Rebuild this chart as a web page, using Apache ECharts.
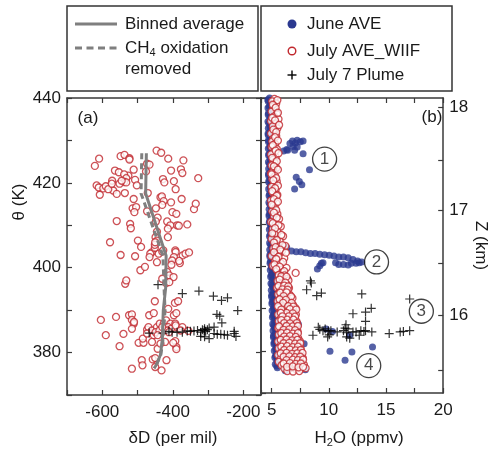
<!DOCTYPE html>
<html><head><meta charset="utf-8">
<script src="https://cdn.jsdelivr.net/npm/echarts@6/dist/echarts.min.js"></script>
<style>html,body{margin:0;padding:0;background:#fff}#c{width:490px;height:453px}</style>
</head><body><div id="c"></div>
<script>
const FONT = '"Liberation Sans", Arial, sans-serif';
const NAVY = '#2b3990', RED = '#c1272d', GRAY = '#7f7f7f', AX = '#3a3a3a', TXT = '#1a1a1a';

// ---------- Panel (a): deltaD vs theta ----------
const julyDeltaD = [[-621,424.0],[-609,425.7],[-607,417.2],[-616,419.4],[-610,418.9],[-597,418.7],[-590,419.2],[-572,420.5],[-564,422.9],[-553,422.5],[-548,426.3],[-537,426.6],[-523,425.8],[-523,425.5],[-526,421.7],[-538,422.0],[-532,421.1],[-538,420.2],[-532,420.1],[-569,418.2],[-583,418.5],[-573,419.8],[-559,417.4],[-551,419.8],[-545,420.5],[-536,417.6],[-511,423.1],[-507,420.7],[-502,419.4],[-511,416.2],[-514,414.0],[-504,414.3],[-509,413.1],[-521,410.3],[-519,409.3],[-559,411.0],[-578,406.0],[-548,403.0],[-507,402.7],[-535,396.2],[-492,399.4],[-479,400.2],[-499,406.4],[-490,404.9],[-476,422.7],[-473,424.5],[-466,424.3],[-471,417.6],[-473,413.3],[-446,427.6],[-433,427.1],[-428,420.9],[-424,420.1],[-435,416.6],[-431,416.8],[-426,415.7],[-430,414.8],[-448,414.0],[-443,411.8],[-448,410.9],[-445,408.5],[-449,407.2],[-445,406.4],[-460,403.6],[-464,403.3],[-466,402.5],[-445,401.3],[-440,403.3],[-451,404.7],[-451,405.4],[-450,406.0],[-430,403.8],[-427,404.1],[-414,407.2],[-416,410.9],[-413,425.7],[-405,422.9],[-397,420.4],[-392,418.5],[-405,415.4],[-401,413.1],[-390,412.7],[-388,410.0],[-407,410.0],[-414,409.2],[-383,409.9],[-393,404.1],[-392,403.7],[-397,402.5],[-402,401.7],[-404,400.7],[-380,401.1],[-372,402.9],[-364,403.3],[-354,403.6],[-382,401.6],[-370,425.3],[-377,423.2],[-373,422.3],[-375,416.2],[-359,410.2],[-340,413.8],[-335,415.1],[-328,421.1],[-416,399.0],[-419,396.4],[-410,398.2],[-398,397.8],[-430,397.4],
[-604,387.7],[-590,384.1],[-561,388.4],[-551,381.5],[-540,384.4],[-524,388.8],[-516,389.0],[-516,387.7],[-511,386.8],[-510,387.2],[-516,385.6],[-497,382.3],[-483,382.3],[-485,383.3],[-473,385.4],[-467,388.8],[-454,389.3],[-451,392.1],[-469,386.0],[-473,384.5],[-459,385.2],[-454,384.1],[-445,386.0],[-449,384.8],[-437,386.8],[-438,385.2],[-443,384.1],[-459,382.5],[-443,380.9],[-422,382.5],[-435,382.1],[-426,386.8],[-419,387.6],[-407,386.8],[-413,386.0],[-405,385.6],[-393,386.8],[-388,386.0],[-392,386.4],[-373,386.0],[-378,385.2],[-413,390.3],[-397,388.8],[-390,389.3],[-394,391.7],[-385,392.1],[-393,382.7],[-390,381.3],[-390,380.8],[-399,382.3],[-418,378.2],[-457,378.4],[-450,378.7],[-488,378.2],[-486,377.0],[-516,376.2],[-432,375.8],[-450,376.6],[-416,385.2],[-411,384.8],[-430,386.0],[-356,385.1],[-532,397.0],[-410,396.6]];

const plumeDeltaD = [[-442,396.0],[-373,393.9],[-326,394.5],[-285,393.3],[-262,392.3],[-245,392.9],[-216,389.9],[-275,389.0],[-267,388.6],[-261,387.0],[-283,386.0],[-297,385.8],[-311,385.2],[-321,384.8],[-330,385.2],[-340,385.1],[-350,385.0],[-359,385.1],[-373,384.8],[-388,384.8],[-402,384.8],[-411,385.0],[-428,384.6],[-467,384.6],[-321,383.8],[-310,383.7],[-297,383.3],[-283,384.5],[-274,384.3],[-264,384.3],[-254,384.2],[-245,384.1],[-226,384.5],[-221,383.8],[-226,385.0],[-307,385.0],[-302,385.4],[-310,385.6],[-316,385.4]];

const binTheta = [427, 417.5, 402.8, 395.5, 390, 383, 379.5, 377.2, 376.3];
const binAvg   = [-475, -477, -419, -420, -427, -430, -435, -446, -453];
const binNoCH4 = [-488, -490, -428, -425, -422, -428, -434, -446, -453];

// ---------- Panel (b): H2O vs theta ----------
const juneColumn = [[4.67,439.6],[4.93,438.8],[4.78,438.0],[5.04,437.2],[4.72,436.4],[4.90,435.6],[5.00,434.8],[4.76,434.0],[4.86,433.2],[5.12,432.4],[4.69,431.6],[4.96,430.8],[4.73,430.0],[4.98,429.2],[4.84,428.4],[5.09,427.6],[4.77,426.8],[4.95,426.0],[5.05,425.2],[4.80,424.4],[4.91,423.6],[5.16,422.8],[4.73,422.0],[5.00,421.2],[4.77,420.4],[5.02,419.6],[4.88,418.8],[5.13,418.0],[4.82,417.2],[4.99,416.4],[5.10,415.6],[4.85,414.8],[4.96,414.0],[5.21,413.2],[4.79,412.4],[5.05,411.6],[4.82,410.8],[5.08,410.0],[4.94,409.2],[5.19,408.4],[4.88,407.6],[5.05,406.8],[5.16,406.0],[4.91,405.2],[5.02,404.4],[5.27,403.6],[4.85,402.8],[5.11,402.0],[4.89,401.2],[5.15,400.4],[5.01,399.6],[5.28,398.8],[4.97,398.0],[5.16,397.2],[5.27,396.4],[5.04,395.6],[5.16,394.8],[5.42,394.0],[5.00,393.2],[5.27,392.4],[5.05,391.6],[5.31,390.8],[5.17,390.0],[5.43,389.2],[5.13,388.4],[5.31,387.6],[5.42,386.8],[5.18,386.0],[5.30,385.2],[5.57,384.4],[5.16,383.6],[5.44,382.8],[5.22,382.0],[5.49,381.2],[5.36,380.4],[5.63,379.6],[5.34,378.8],[5.54,378.0],[5.67,377.2],[5.44,376.4],
[4.82,440.0],[4.70,439.2],[4.88,438.4],[4.68,437.6],[4.95,436.8],[4.70,436.0],[4.84,435.2],[4.68,434.4],[4.92,433.6],[4.71,432.8],[4.85,432.0],[4.70,431.2],[4.90,430.4],[4.72,429.6],[4.88,428.8],[4.71,428.0],[4.94,427.2],[4.73,426.4],[4.86,425.6],[4.72,424.8],[4.96,424.0],[4.74,423.2],[4.88,422.4],[4.73,421.6],[4.92,420.8],[4.75,420.0],[4.90,419.2],[4.74,418.4],[4.95,417.6],[4.77,416.8],[4.88,416.0],[4.76,415.2],[4.97,414.4],[4.78,413.6],[4.90,412.8],[4.77,412.0],[4.95,411.2],[4.79,410.4],[4.92,409.6],[4.80,408.8],[4.98,408.0],[4.81,407.2],[4.93,406.4],[4.82,405.6],[5.00,404.8],[4.83,404.0],[4.96,403.2],[4.84,402.4],[5.02,401.6],[4.86,400.8],[4.98,400.0],[4.88,399.2],[5.06,398.4],[4.91,397.6],[5.05,396.8],[4.94,396.0],[5.10,395.2],[4.97,394.4],[5.12,393.6],[5.00,392.8],[5.15,392.0],[5.02,391.2],[5.18,390.4],[5.04,389.6],[5.20,388.8],[5.07,388.0],[5.22,387.2],[5.09,386.4],[5.26,385.6],[5.12,384.8],[5.30,384.0],[5.16,383.2],[5.33,382.4],[5.20,381.6],[5.38,380.8],[5.23,380.0],[5.42,379.2],[5.28,378.4],[5.45,377.6],[5.32,376.8],[5.50,376.0]];

const juneOutliers = [[6.05,427.4],[6.32,427.8],[6.6,429.2],[6.82,429.8],[7.07,429.3],[7.23,430.0],[7.51,429.6],[7.75,429.8],[7.01,427.6],[7.23,428.4],[7.75,426.8],[8.31,423.0],[7.15,421.2],[7.64,419.4],[7.42,420.2],[7.01,418.4],[6.4,427.6],[6.87,428.5],
[6.0,405.0],[6.32,404.5],[6.74,403.7],[7.15,403.5],[7.56,403.5],[7.98,403.3],[8.39,403.1],[8.8,403.1],[9.21,402.9],[9.63,402.8],[10.04,402.7],[10.45,402.5],[10.87,402.3],[11.28,402.3],[11.69,402.1],[12.11,401.7],[12.52,401.3],[12.88,401.1],
[9.0,399.4],[9.21,400.2],[9.35,400.8],[9.49,400.9],[10.59,400.9],[10.87,400.5],[11.28,400.5],[11.69,400.4],[11.97,400.8],[12.38,400.8],[12.66,400.9],
[7.34,386.3],[7.84,381.7],[10.1,379.9],[12.02,379.7],[11.42,377.8],[13.82,380.9],[9.77,385.2],[10.32,384.6],[11.83,383.7],[6.2,375.3],[7.95,375.5],[6.8,376.0]];

const julyH2O = [[5.25,439.8],[5.05,439.2],[5.4,438.7],[5.15,438.0],[5.3,437.3],[5.0,436.8],[5.45,436.2],[5.2,435.6],[5.6,435.0],[4.95,434.5],[5.35,434.0],[5.1,433.3],[5.5,432.8],[5.25,432.1],[4.95,431.6],[5.4,431.0],[5.15,430.4],[5.05,429.7],[5.3,429.1],[5.0,428.4],[5.45,427.9],[5.2,427.2],[4.95,426.6],[5.35,426.0],[5.1,425.3],[5.25,424.7],[5.0,424.0],[5.4,423.4],[5.15,422.8],[4.95,422.1],[5.3,421.5],[5.05,420.8],[5.45,420.2],[5.2,419.6],[5.0,418.9],[5.35,418.3],[5.1,417.6],[5.5,417.0],[5.25,416.4],[4.95,415.7],[5.4,415.1],[5.15,414.4],[5.3,413.8],[5.05,413.1],[5.5,412.5],[5.2,411.9],[5.65,411.3],[4.95,410.6],[5.35,410.0],[5.8,409.5],[5.1,408.9],[5.5,408.3],[5.25,407.7],[6.0,407.2],[5.0,406.6],[5.7,406.0],[5.4,405.4],[6.2,404.9],[5.15,404.3],[5.9,403.7],[5.55,403.1],[5.0,402.5],[6.1,402.0],[5.3,401.4],[5.8,400.8],[5.1,400.2],[6.3,399.7],[5.5,399.1],[5.95,398.6],[7.1,398.5],
[5.5,439.5],[5.1,438.4],[5.35,437.7],[5.55,436.5],[5.05,435.3],[5.3,434.7],[5.65,433.6],[5.15,432.5],[5.4,431.9],[5.3,430.7],[5.55,429.9],[5.1,428.8],[5.35,427.5],[5.6,426.9],[5.05,425.8],[5.45,425.0],[5.2,423.8],[5.55,423.0],[5.0,421.9],[5.4,421.0],[5.15,420.5],[5.55,419.2],[5.3,418.6],[5.05,417.9],[5.45,416.8],[5.2,416.0],[5.55,415.4],[5.0,414.7],[5.4,413.4],[5.2,412.8],[5.45,411.6],[5.1,410.3],[5.6,409.8],[5.3,409.1],[5.05,407.9],[5.85,407.5],[5.45,406.3],[5.2,405.7],[5.95,405.1],[5.35,404.6],[5.75,404.0],[5.2,403.4],[6.25,403.3],[5.6,402.3],[5.4,401.8],[6.0,401.1],[5.25,400.5],[5.7,400.0],[5.4,399.4],[6.1,398.9],
[5.62,398.0],[6.12,397.9],[5.88,397.3],[6.38,397.1],[5.52,396.6],[6.02,396.5],[6.47,396.7],[5.78,395.8],[6.27,395.9],[5.47,395.0],[5.97,395.1],[6.52,394.9],[5.72,394.2],[6.22,394.3],[5.57,393.4],[6.07,393.5],[6.57,393.3],[5.82,392.6],[6.32,392.7],[6.82,392.5],[5.52,391.8],[6.02,391.9],[6.57,391.7],[5.77,391.0],[6.27,391.1],[6.87,390.9],[5.62,390.2],[6.12,390.3],[6.62,390.1],[7.07,390.2],[5.87,389.4],[6.37,389.5],[6.92,389.3],[5.57,388.6],[6.07,388.7],[6.62,388.5],[7.12,388.6],[5.82,387.8],[6.32,387.9],[6.82,387.7],[5.62,387.0],[6.12,387.1],[6.62,386.9],[7.17,387.0],[5.87,386.2],[6.37,386.3],[6.92,386.1],[5.57,385.4],[6.07,385.5],[6.57,385.3],[7.12,385.4],[5.82,384.6],[6.32,384.7],[6.82,384.5],[7.27,384.6],[5.62,383.8],[6.12,383.9],[6.62,383.7],[7.07,383.8],[5.87,383.0],[6.37,383.1],[6.87,382.9],[7.32,383.0],[5.57,382.2],[6.07,382.3],[6.57,382.1],[7.02,382.2],[7.47,382.3],[5.82,381.4],[6.32,381.5],[6.82,381.3],[7.27,381.4],[5.62,380.6],[6.12,380.7],[6.62,380.5],[7.07,380.6],[7.52,380.7],[5.87,379.8],[6.37,379.9],[6.87,379.7],[7.32,379.8],[5.57,379.0],[6.07,379.1],[6.57,378.9],[7.02,379.0],[7.57,379.1],[5.82,378.2],[6.32,378.3],[6.82,378.1],[7.27,378.2],[7.72,378.3],[5.62,377.4],[6.12,377.5],[6.62,377.3],[7.07,377.4],[7.52,377.5],[5.87,376.6],[6.37,376.7],[6.87,376.5],[7.32,376.6],[7.82,376.7],[6.12,375.8],[6.62,375.9],[7.12,375.7],[7.57,375.8],[7.97,375.9],[6.37,375.2],[6.87,375.1],[7.42,375.2],
[5.85,397.7],[6.3,397.6],[5.7,396.9],[6.2,396.2],[5.6,395.4],[6.1,395.5],[6.45,395.3],[5.95,394.6],[6.4,394.5],[5.75,393.8],[6.3,393.9],[6.7,392.9],[6.05,393.0],[5.7,392.2],[6.25,392.1],[6.75,391.4],[6.0,391.4],[5.55,390.6],[6.45,390.6],[6.9,390.5],[5.85,389.8],[6.6,389.9],[7.15,389.8],[6.3,389.0],[5.8,389.0],[6.85,388.9],[6.5,388.2],[5.95,388.2],[7.05,388.1],[6.35,387.4],[5.85,387.3],[6.9,387.4],[7.2,386.6],[6.1,386.6],[6.6,386.5],[5.65,385.8],[6.3,385.9],[6.85,385.8],[7.3,385.9],[6.05,385.0],[6.55,385.1],[7.05,384.9],[5.85,384.2],[6.35,384.3],[6.85,384.1],[7.3,384.2],[6.1,383.4],[6.6,383.5],[7.1,383.3],[5.8,382.6],[6.3,382.7],[6.8,382.5],[7.25,382.6],[6.05,381.8],[6.55,381.9],[7.05,381.7],[7.5,381.8],[5.85,381.0],[6.35,381.1],[6.85,380.9],[7.3,381.0],[6.1,380.2],[6.6,380.3],[7.1,380.1],[7.55,380.2],[5.8,379.4],[6.3,379.5],[6.8,379.3],[7.25,379.4],[7.7,379.5],[6.05,378.6],[6.55,378.7],[7.05,378.5],[7.5,378.6],[6.3,377.8],[6.85,377.9],[7.3,377.8],[7.75,377.9],[6.05,377.0],[6.6,377.1],[7.1,376.9],[7.55,377.0],[6.35,376.2],[6.85,376.3],[7.35,376.1],[7.75,376.2]];

const plumeH2O = [[8.39,396.6],[8.47,396.1],[8.06,394.5],[8.94,393.1],[9.35,393.7],[12.88,393.5],[17.07,392.3],[12.11,388.8],[13.21,389.2],[13.71,390.1],[13.21,387.0],[11.5,386.2],[9.08,385.6],[9.21,385.1],[9.49,384.8],[9.68,385.2],[9.96,384.7],[10.18,384.8],[10.73,384.5],[11.28,384.8],[11.56,384.3],[11.69,385.2],[12.11,384.5],[12.38,384.5],[12.8,384.8],[13.07,384.6],[13.21,384.8],[13.76,384.5],[15.28,384.1],[16.24,384.5],[16.52,384.6],[17.07,384.8],[8.61,383.7],[9.9,383.3],[10.04,383.8],[11.56,383.3],[11.83,383.0],[12.66,383.7],[11.42,385.4]];

const annoH2O = [9.63, 14.17, 18.09, 13.49];
const annoTheta = [425.5, 401.1, 389.4, 376.5];
const annoLabels = ['1', '2', '3', '4'];

// ---------- Tick labels ----------
const thetaLabels = [380, 400, 420, 440];
const deltaDLabels = [-600, -400, -200];
const h2oTicks = [5, 7.5, 10, 12.5, 15, 17.5, 20];
const h2oLabels = [5, 10, 15, 20];
const zTickTheta = [375.5, 388.5, 400.8, 413.3, 425.3, 437.8];
const zTickKm = [15.5, 16, 16.5, 17, 17.5, 18];
const zLabelKm = [16, 17, 18];

const chart = echarts.init(document.getElementById('c'), null, {renderer: 'canvas'});
const lab = {fontFamily: FONT, fontSize: 17, color: TXT};
const axLine = {show: true, onZero: false, lineStyle: {color: AX, width: 1.5}};
const tick = (extra) => Object.assign({show: true, inside: true, length: 5, lineStyle: {color: AX, width: 1.2}}, extra || {});
const plusSym = 'path://M5,0L5,10M0,5L10,5';

const zLabelTheta = zTickTheta.filter((t, i) => zLabelKm.indexOf(zTickKm[i]) >= 0);

const option = {
  animation: false,
  backgroundColor: '#fff',
  grid: [
    {left: 67, top: 98, width: 194, height: 297},
    {left: 261, top: 98, width: 192, height: 297}
  ],
  xAxis: [
    {gridIndex: 0, type: 'value', min: -700, max: -150, interval: 100, position: 'bottom',
     axisLine: axLine, axisTick: tick(), splitLine: {show: false},
     axisLabel: Object.assign({customValues: deltaDLabels, margin: 9}, lab),
     name: 'δD (per mil)', nameLocation: 'middle', nameGap: 35,
     nameTextStyle: Object.assign({padding: [0, 0, 0, 18]}, lab)},
    {gridIndex: 0, type: 'value', min: -700, max: -150, interval: 100, position: 'top',
     axisLine: axLine, axisTick: tick(), splitLine: {show: false}, axisLabel: {show: false}},
    {gridIndex: 1, type: 'value', min: 4.07, max: 20, position: 'bottom',
     axisLine: axLine, axisTick: tick({customValues: h2oTicks}), splitLine: {show: false},
     axisLabel: Object.assign({customValues: h2oLabels, margin: 9}, lab),
     name: '{n|H}{s|2}{n|O (ppmv)}', nameLocation: 'middle', nameGap: 35,
     nameTextStyle: {padding: [0, 0, 0, 14], rich: {
       n: {fontFamily: FONT, fontSize: 17, color: TXT},
       s: {fontFamily: FONT, fontSize: 11, color: TXT, padding: [9, 0, 0, 0]}}}},
    {gridIndex: 1, type: 'value', min: 4.07, max: 20, position: 'top',
     axisLine: axLine, axisTick: tick({customValues: h2oTicks}), splitLine: {show: false}, axisLabel: {show: false}}
  ],
  yAxis: [
    {gridIndex: 0, type: 'value', min: 370, max: 440, interval: 10, position: 'left',
     axisLine: axLine, axisTick: tick(), splitLine: {show: false},
     axisLabel: Object.assign({customValues: thetaLabels, margin: 6}, lab)},
    {gridIndex: 0, type: 'value', min: 370, max: 440, interval: 10, position: 'right',
     axisLine: axLine, axisTick: tick(), splitLine: {show: false}, axisLabel: {show: false}},
    {gridIndex: 1, type: 'value', min: 370, max: 440, interval: 10, position: 'left',
     axisLine: axLine, axisTick: tick(), splitLine: {show: false}, axisLabel: {show: false}},
    {gridIndex: 1, type: 'value', min: 370, max: 440, position: 'right',
     axisLine: axLine, axisTick: tick({customValues: zTickTheta}), splitLine: {show: false},
     axisLabel: Object.assign({customValues: zLabelTheta, margin: 6,
       formatter: v => { const i = zTickTheta.indexOf(v); return i >= 0 ? String(zTickKm[i]) : ''; }}, lab),
     name: 'Z (km)', nameLocation: 'middle', nameRotate: -90, nameGap: 26,
     nameTextStyle: lab}
  ],
  series: [
    {name: 'July AVE_WIIF', type: 'scatter', xAxisIndex: 0, yAxisIndex: 0, data: julyDeltaD,
     symbol: 'circle', symbolSize: 7, itemStyle: {color: '#fff', borderColor: RED, borderWidth: 1.3}},
    {name: 'July 7 Plume', type: 'scatter', xAxisIndex: 0, yAxisIndex: 0, data: plumeDeltaD,
     symbol: plusSym, symbolSize: 9, itemStyle: {color: 'transparent', borderColor: '#000', borderWidth: 1.2}},
    {name: 'Binned average', type: 'line', xAxisIndex: 0, yAxisIndex: 0,
     data: binTheta.map((t, i) => [binAvg[i], t]), showSymbol: false, symbol: 'none',
     lineStyle: {color: GRAY, width: 3}},
    {name: 'CH4 oxidation removed', type: 'line', xAxisIndex: 0, yAxisIndex: 0,
     data: binTheta.map((t, i) => [binNoCH4[i], t]), showSymbol: false, symbol: 'none',
     lineStyle: {color: GRAY, width: 3, type: [6, 4]}},
    {name: 'June AVE', type: 'scatter', xAxisIndex: 2, yAxisIndex: 2, data: juneColumn.concat(juneOutliers),
     symbol: 'circle', symbolSize: 7, itemStyle: {color: NAVY}},
    {name: 'July AVE_WIIF', type: 'scatter', xAxisIndex: 2, yAxisIndex: 2, data: julyH2O,
     symbol: 'circle', symbolSize: 7, itemStyle: {color: '#fff', borderColor: RED, borderWidth: 1.3}},
    {name: 'July 7 Plume', type: 'scatter', xAxisIndex: 2, yAxisIndex: 2, data: plumeH2O,
     symbol: plusSym, symbolSize: 9, itemStyle: {color: 'transparent', borderColor: '#000', borderWidth: 1.2}},
    {name: 'events', type: 'scatter', xAxisIndex: 2, yAxisIndex: 2,
     data: annoH2O.map((h, i) => [h, annoTheta[i]]), symbol: 'circle', symbolSize: 24,
     itemStyle: {color: 'rgba(255,255,255,0)', borderColor: '#111', borderWidth: 1.3},
     label: {show: true, position: 'inside', formatter: p => annoLabels[p.dataIndex],
       fontFamily: FONT, fontSize: 17, color: TXT}}
  ],
  graphic: [
    {type: 'rect', shape: {x: 67, y: 6, width: 191, height: 85}, style: {fill: 'none', stroke: '#333', lineWidth: 1.5}},
    {type: 'rect', shape: {x: 261, y: 6, width: 191, height: 85}, style: {fill: 'none', stroke: '#333', lineWidth: 1.5}},
    {type: 'line', shape: {x1: 75, y1: 24, x2: 117, y2: 24}, style: {stroke: GRAY, lineWidth: 3}},
    {type: 'text', x: 125, y: 24, style: {text: 'Binned average', font: '17px ' + FONT, fill: TXT, verticalAlign: 'middle'}},
    {type: 'line', shape: {x1: 75, y1: 48, x2: 117, y2: 48}, style: {stroke: GRAY, lineWidth: 3, lineDash: [7, 4.5]}},
    {type: 'text', x: 125, y: 48, style: {text: '{n|CH}{s|4}{n| oxidation}', verticalAlign: 'middle', rich: {
       n: {fontFamily: FONT, fontSize: 17, fill: TXT}, s: {fontFamily: FONT, fontSize: 11, fill: TXT, padding: [9, 0, 0, 0]}}}},
    {type: 'text', x: 125, y: 69, style: {text: 'removed', font: '17px ' + FONT, fill: TXT, verticalAlign: 'middle'}},
    {type: 'circle', shape: {cx: 292, cy: 24, r: 4.5}, style: {fill: NAVY}},
    {type: 'text', x: 307, y: 24, style: {text: 'June AVE', font: '17px ' + FONT, fill: TXT, verticalAlign: 'middle'}},
    {type: 'circle', shape: {cx: 292, cy: 51, r: 3.8}, style: {fill: '#fff', stroke: RED, lineWidth: 1.4}},
    {type: 'text', x: 307, y: 51, style: {text: 'July AVE_WIIF', font: '17px ' + FONT, fill: TXT, verticalAlign: 'middle'}},
    {type: 'line', shape: {x1: 287.5, y1: 75, x2: 296.5, y2: 75}, style: {stroke: '#000', lineWidth: 1.4}},
    {type: 'line', shape: {x1: 292, y1: 70.5, x2: 292, y2: 79.5}, style: {stroke: '#000', lineWidth: 1.4}},
    {type: 'text', x: 307, y: 75, style: {text: 'July 7 Plume', font: '17px ' + FONT, fill: TXT, verticalAlign: 'middle'}},
    {type: 'text', x: 88, y: 118, style: {text: '(a)', font: '17px ' + FONT, fill: TXT, align: 'center', verticalAlign: 'middle'}},
    {type: 'text', x: 432, y: 117, style: {text: '(b)', font: '17px ' + FONT, fill: TXT, align: 'center', verticalAlign: 'middle'}},
    {type: 'text', x: 19, y: 202, rotation: Math.PI / 2, style: {text: 'θ (K)', font: '17px ' + FONT, fill: TXT, align: 'center', verticalAlign: 'middle'}}
  ]
};
chart.setOption(option);
</script></body></html>
